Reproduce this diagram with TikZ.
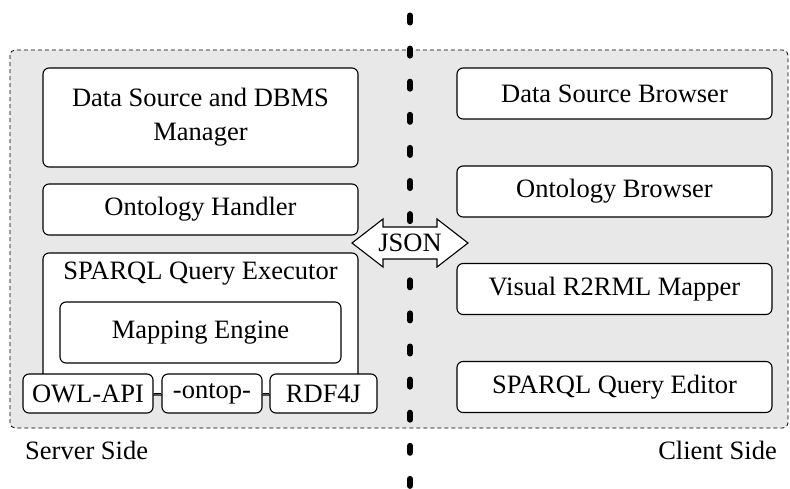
\documentclass[tikz,border=0pt]{standalone}
\usepackage{fontspec}
\setmainfont{Liberation Serif}
\begin{document}
\begin{tikzpicture}[x=1pt,y=-1pt,
  font=\fontsize{26.5}{34}\selectfont,
  box/.style={draw, line width=1.1pt, rounded corners=6pt, fill=white, inner sep=0pt, align=center},
  wire/.style={line width=1.1pt},
  region/.style={draw, dashed, dash pattern=on 4pt off 3pt, line width=0.8pt, rounded corners=5pt, fill=black!9},
  divider/.style={line width=6pt, line cap=round, dash pattern=on 7pt off 26.1pt}]
\useasboundingbox (0,0) rectangle (790,488);
% background region
\path[region] (10,50) rectangle (788,428);
% divider
\coordinate (dtop) at (410,15.5);
\coordinate (dbot) at (410,486);
\draw[divider] (dtop) -- (dbot);
% server side
\node[box, minimum width=315pt, minimum height=99pt] (ds) at (200.5,117.5) {Data Source and DBMS\\Manager};
\node[box, minimum width=315pt, minimum height=51pt] (oh) at (200.5,209.5) {Ontology Handler};
\node[box, minimum width=315pt, minimum height=142pt] (sqe) at (200.5,324) {};
\node[inner sep=0pt] (sqel) at (200.5,274) {SPARQL Query Executor};
\node[box, minimum width=281pt, minimum height=61pt] (me) at (200.5,332.5) {Mapping Engine};
\node[box, minimum width=130pt, minimum height=39pt] (owl) at (88,393.5) {OWL-API};
\node[box, minimum width=100pt, minimum height=39pt] (ontop) at (212,393.5) {-ontop-};
\node[box, minimum width=107pt, minimum height=39pt] (rdf) at (323.5,393.5) {RDF4J};
\draw[wire] (owl.east) -- (ontop.west);
\draw[wire] (ontop.east) -- (rdf.west);
% client side
\node[box, minimum width=315pt, minimum height=51pt] (dsb) at (614.5,93.5) {Data Source Browser};
\node[box, minimum width=315pt, minimum height=51pt] (ob) at (614.5,191.5) {Ontology Browser};
\node[box, minimum width=315pt, minimum height=51pt] (vm) at (614.5,289) {Visual R2RML Mapper};
\node[box, minimum width=315pt, minimum height=51pt] (qe) at (614.5,387) {SPARQL Query Editor};
% labels
\node[anchor=west, inner sep=0pt] (ss) at (25,450) {Server Side};
\node[anchor=east, inner sep=0pt] (cs) at (777,450) {Client Side};
% JSON double arrow
\draw[line width=1.1pt, fill=white, line join=miter]
  (352,243) -- (383,219) -- (383,227) -- (437,227) -- (437,219) -- (468,243)
  -- (437,267) -- (437,259) -- (383,259) -- (383,267) -- cycle;
\node[inner sep=0pt] (json) at (410,243) {JSON};
\end{tikzpicture}
\end{document}
